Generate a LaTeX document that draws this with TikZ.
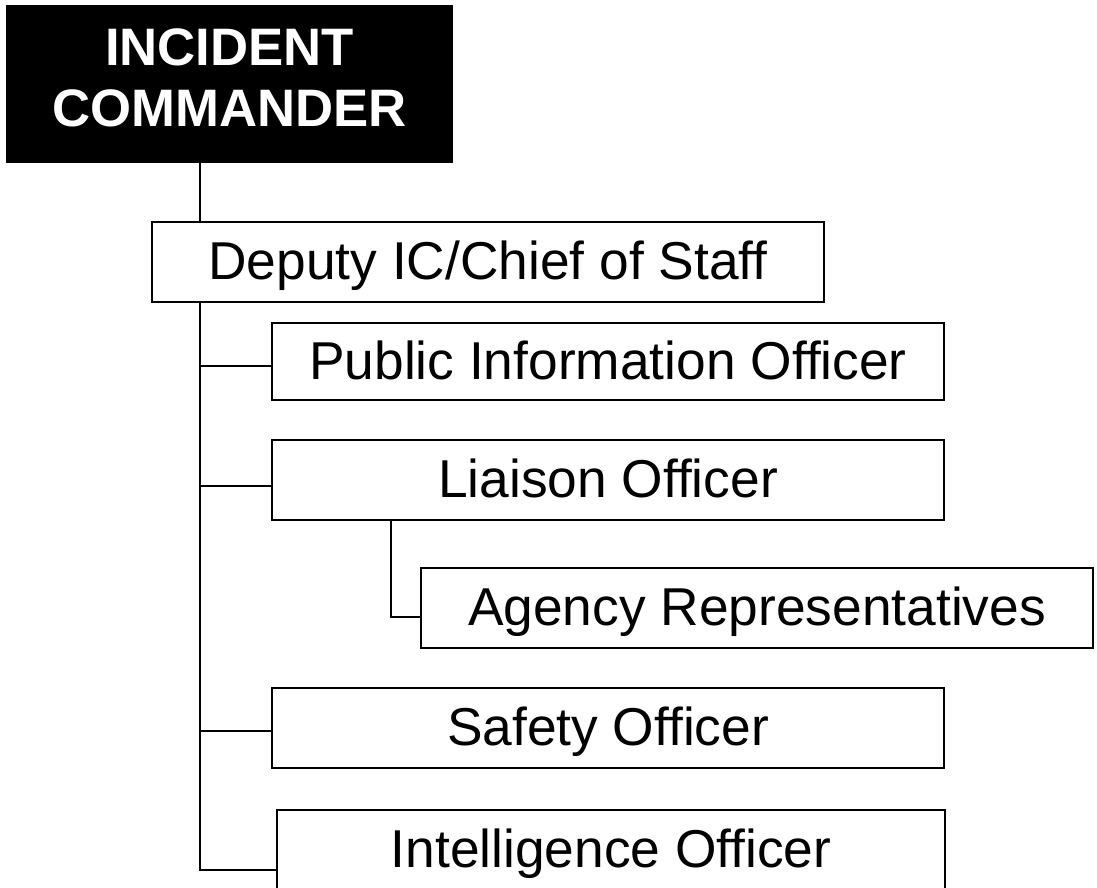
\documentclass[tikz,border=0pt]{standalone}
\usepackage{fontspec}
\setmainfont{Liberation Sans}
\usepackage{tikz}
\usetikzlibrary{positioning, calc}

\begin{document}
\begin{tikzpicture}[
    x=0.03cm, y=-0.03cm,
    chief/.style={rectangle, draw=black, fill=black, text=white, line width=1.5pt,
        font=\fontsize{45}{52}\selectfont\bfseries, align=center, inner sep=0pt,
        text depth=0.36cm, minimum width=13.35cm, minimum height=4.68cm},
    staff/.style={rectangle, draw=black, line width=1.5pt, fill=white,
        font=\fontsize{45.5}{52}\selectfont, inner sep=0pt,
        text height=1.05cm, text depth=0cm,
        minimum width=20.16cm, minimum height=2.4cm},
    link/.style={line width=1.5pt},
]

\useasboundingbox (0,0) rectangle (1097,887);

\node[chief] (ic) at (229.5,84) {INCIDENT\\COMMANDER};
\node[staff] (dep) at (488,262) {Deputy IC/Chief of Staff};
\node[staff, minimum height=2.31cm] (pio) at (608,361.5) {Public Information Officer};
\node[staff] (liaison) at (608,480) {Liaison Officer};
\node[staff] (agency) at (757,608) {Agency Representatives};
\node[staff] (safety) at (608,728) {Safety Officer};
\node[staff, minimum width=20.04cm] (intel) at (611,850) {Intelligence Officer};

% trunk and branch points
\coordinate (trunk) at (200,870);
\coordinate (lbr) at (391,617);

\draw[link] (ic.south -| trunk) -- (dep.north -| trunk);
\draw[link] (dep.south -| trunk) -- (trunk) -- (trunk -| intel.west);
\draw[link] ([yshift=-0.13cm]pio.west -| trunk) -- ([yshift=-0.13cm]pio.west);
\draw[link] ([yshift=-0.18cm]liaison.west -| trunk) -- ([yshift=-0.18cm]liaison.west);
\draw[link] ([yshift=-0.09cm]safety.west -| trunk) -- ([yshift=-0.09cm]safety.west);

\draw[link] (liaison.south -| lbr) -- (lbr) -- (lbr -| agency.west);

\end{tikzpicture}
\end{document}
